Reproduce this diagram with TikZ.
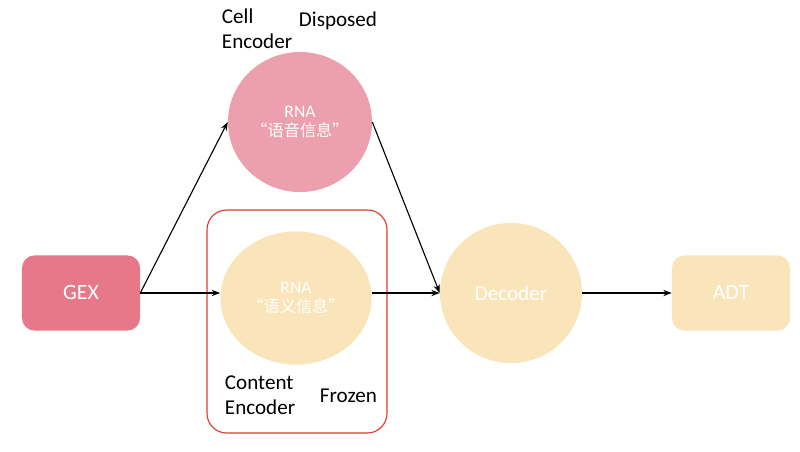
\documentclass[tikz,border=0pt]{standalone}
\usepackage{fontspec}
\setmainfont{Carlito}
\newfontfamily\cjk{Noto Sans CJK SC}
\usetikzlibrary{positioning}
\usetikzlibrary{arrows.meta}
\usetikzlibrary{shapes.geometric}

\definecolor{gexpink}{HTML}{E67889}
\definecolor{cellpink}{HTML}{ECA0AD}
\definecolor{softyellow}{HTML}{FAE5BA}
\definecolor{framered}{HTML}{E03A2C}

\tikzset{
  box/.style={draw=none, rounded corners=9pt, minimum width=2.95cm, minimum height=1.88cm, text=white, font=\fontsize{15.5}{18}\selectfont},
  blob/.style={ellipse, draw=none, inner sep=0pt, text=white, align=center},
  tag/.style={align=left, anchor=west, font=\fontsize{15}{17.5}\selectfont},
  link/.style={-{Stealth[length=6pt,width=4.5pt]}, thick, black}
}

\begin{document}
\begin{tikzpicture}[x=0.025cm, y=-0.025cm]
		\useasboundingbox (0,0) rectangle (800,452);
		\node [box, fill=gexpink] (gex) at (81,293) {GEX};
		\node [box, fill=softyellow] (adt) at (731,293) {ADT};
		\node [blob, fill=cellpink, minimum width=3.6cm, minimum height=3.5cm] (cell) at (300,122) {\fontsize{12.5}{14}\selectfont RNA\\[2pt] \fontsize{11.5}{14}\selectfont\cjk “语音信息”};
		\node [blob, fill=softyellow, minimum width=3.78cm, minimum height=3.33cm] (content) at (296,298) {\fontsize{12.5}{14}\selectfont RNA\\[2pt] \fontsize{11.5}{14}\selectfont\cjk “语义信息”};
		\node [blob, fill=softyellow, minimum width=3.55cm, minimum height=3.5cm, font=\fontsize{15}{18}\selectfont] (dec) at (511,293) {Decoder};
		\draw [framered, thick, rounded corners=14pt] (207,210) rectangle (387,433);
		\node [tag] (celltag) at (217,29) {Cell\\Encoder};
		\node [tag] (disp) at (294,21) {Disposed};
		\node [tag] (conttag) at (220,395) {Content\\Encoder};
		\node [tag] (froz) at (315,396) {Frozen};
		\draw [link] (gex.east) -- (cell.west);
		\draw [link] (gex.east) -- (gex.east -| content.west);
		\draw [link] (cell.east) -- (dec.west);
		\draw [link] (gex.east -| content.east) -- (dec.west);
		\draw [link] (dec.east) -- (adt.west);
	\end{tikzpicture}
\end{document}
